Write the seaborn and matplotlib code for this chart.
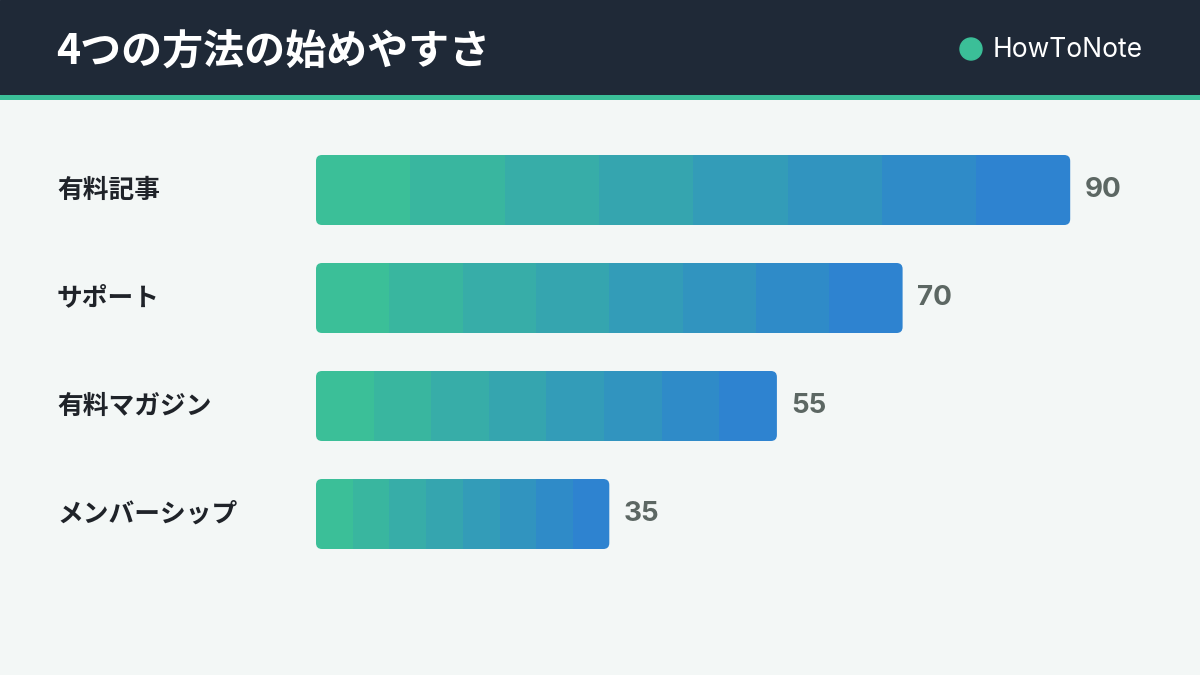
import numpy as np
import pandas as pd
import matplotlib
matplotlib.use("Agg")
import matplotlib.pyplot as plt
import seaborn as sns
from matplotlib.colors import LinearSegmentedColormap
from matplotlib.patches import FancyBboxPatch, Circle

# chart data
categories = ["有料記事", "サポート", "有料マガジン", "メンバーシップ"]
scores = [90, 70, 55, 35]
title = "4つの方法の始めやすさ"
brand = "HowToNote"

HEADER = "#1f2937"
TEAL = "#3bbf98"
BLUE = "#2e83d0"
BG = "#f3f7f6"

sns.set_theme(style="white")
plt.rcParams["font.family"] = ["Noto Sans CJK JP", "DejaVu Sans"]

df = pd.DataFrame({"method": categories, "score": scores})

W, H = 1200, 675
fig = plt.figure(figsize=(W / 100, H / 100), dpi=100, facecolor=BG)

# header band
hdr = fig.add_axes([0, 1 - 95 / H, 1, 95 / H])
hdr.set_xlim(0, W)
hdr.set_ylim(95, 0)
hdr.axis("off")
hdr.add_patch(plt.Rectangle((0, 0), W, 95, color=HEADER))
hdr.text(56, 53, title, color="white", fontsize=29.5, fontweight="bold",
         va="center", ha="left")
hdr.add_patch(Circle((971, 49), 11, color=TEAL))
hdr.text(993, 50, brand, color="white", fontsize=19, va="center", ha="left",
         family=["Inter", "DejaVu Sans"])
strip = fig.add_axes([0, 1 - 100 / H, 1, 5 / H])
strip.axis("off")
strip.add_patch(plt.Rectangle((0, 0), 1, 1, color=TEAL, transform=strip.transAxes))

# bar area
left, right = 316, 316 + 838
top, bottom = 136, 568
ax = fig.add_axes([left / W, 1 - bottom / H, (right - left) / W, (bottom - top) / H])
ax.set_facecolor(BG)

sns.barplot(data=df, x="score", y="method", orient="h", width=70 / 108,
            color=TEAL, ax=ax)
ax.set_xlim(0, 100)
ax.set_ylim(3.5, -0.5)

px_x = (right - left) / 100.0   # pixels per score unit
px_y = (bottom - top) / 4.0     # pixels per category unit
radius = 6 / px_x

cmap = LinearSegmentedColormap.from_list("g", [TEAL, BLUE])
for bar, val in zip(ax.patches, scores):
    x0, y0 = bar.get_x(), bar.get_y()
    w, h = bar.get_width(), bar.get_height()
    bar.set_visible(False)
    steps = 8
    grad = np.linspace(0, 1, steps).reshape(1, -1)
    clip = FancyBboxPatch((x0, y0), w, h,
                          boxstyle=f"round,pad=0,rounding_size={radius}",
                          mutation_aspect=px_x / px_y,
                          transform=ax.transData, facecolor="none", edgecolor="none")
    ax.add_patch(clip)
    im = ax.imshow(grad, extent=[x0, x0 + w, y0 + h, y0], cmap=cmap, aspect="auto",
                   interpolation="nearest", zorder=2)
    im.set_clip_path(clip)
    ax.text(val + 1.75, bar.get_y() + h / 2, f"{val}", va="center", ha="left",
            fontsize=20, fontweight="bold", color="#5c6763",
            family=["Inter", "DejaVu Sans"])

ax.set_yticks(range(len(categories)))
ax.set_yticklabels([])
for i, lab in enumerate(categories):
    fig.text(57 / W, 1 - (190 + 108 * i) / H, lab, fontsize=18.5, fontweight="bold",
             color="#1f2329", va="center", ha="left")
ax.set_xticks([])
ax.set_xlabel("")
ax.set_ylabel("")
sns.despine(ax=ax, left=True, bottom=True)
ax.tick_params(left=False)

fig.savefig("out.png", dpi=100, facecolor=BG)
